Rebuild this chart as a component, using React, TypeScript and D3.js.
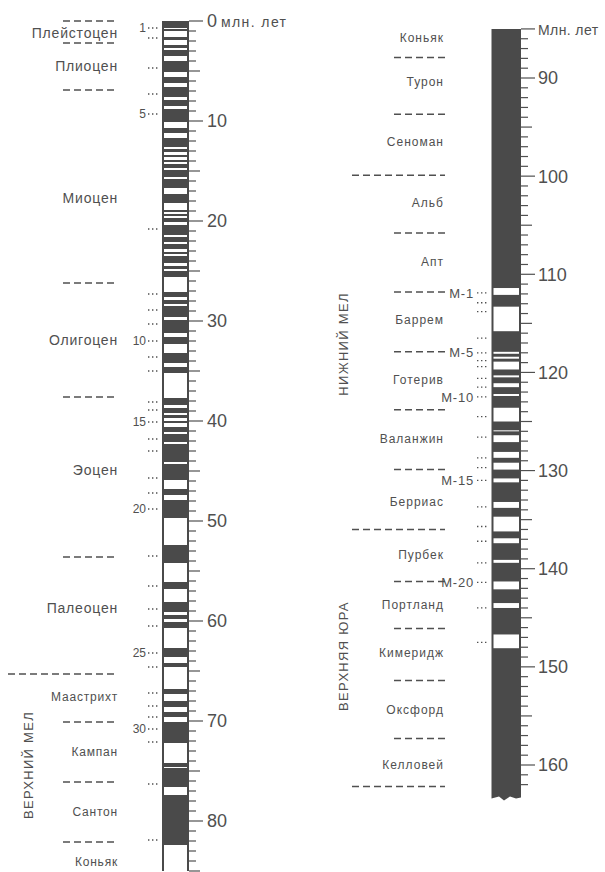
import React from 'react'
import * as d3 from 'd3'

// reversed-polarity (white) intervals, million years
const leftReversed: [number, number][] = [
  [0.7, 0.8], [1.0, 1.6], [1.9, 2.4], [2.7, 2.9], [3.5, 4.0], [5.1, 5.6], [6.2, 6.6], [7.6, 7.9],
  [8.5, 8.8], [10.1, 10.7], [11.2, 11.7], [12.6, 12.8], [13.1, 13.4], [13.6, 13.9], [14.1, 14.3],
  [14.7, 14.9], [15.6, 15.8], [16.7, 17.3], [18.2, 18.9], [19.1, 19.3], [19.5, 19.7], [20.1, 20.4],
  [21.4, 21.6], [22.1, 22.3], [22.8, 23.1], [23.3, 23.5], [24.2, 24.5], [24.8, 25.0], [25.6, 27.1],
  [27.6, 27.9], [28.3, 28.5], [29.6, 29.9], [31.2, 31.6], [32.3, 33.2], [34.2, 34.6], [35.2, 37.7],
  [38.4, 38.7], [39.2, 39.4], [39.7, 40.0], [40.2, 40.6], [41.1, 41.3], [42.1, 42.3], [44.1, 44.3],
  [45.9, 46.8], [47.4, 47.9], [49.7, 52.4], [54.2, 56.1], [56.8, 58.1], [59.1, 59.4], [59.8, 60.1],
  [60.7, 62.7], [63.6, 64.2], [64.6, 66.8], [67.3, 68.0], [68.6, 69.1], [69.6, 70.1], [72.2, 74.2],
  [74.6, 74.7], [76.6, 77.4], [82.4, 85.0]
]
const rightReversed: [number, number][] = [
  [111.4, 112.1], [113.3, 115.8], [117.9, 118.1], [118.4, 118.6], [118.9, 119.7], [120.3, 120.5],
  [121.1, 121.5], [122.2, 122.4], [123.6, 125.0], [125.9, 126.0], [126.4, 127.1], [128.1, 128.7],
  [129.2, 129.9], [130.8, 131.2], [133.2, 133.8], [134.7, 136.2], [136.9, 137.4], [139.1, 139.4],
  [141.3, 142.1], [143.5, 144.0], [146.7, 148.1]
]

// magnetic anomaly positions (numbered 1..33 and M-1..M-22)
const leftAnomalies = [
  0.7, 1.7, 4.7, 7.3, 9.3, 20.8, 27.3, 28.9, 30.3, 32.0, 33.6, 35.0, 38.1, 38.9, 40.1, 41.8, 43.0,
  45.7, 47.2, 48.8, 53.5, 56.5, 58.8, 60.5, 63.2, 64.6, 67.2, 68.5, 69.6, 70.8, 72.1, 76.3, 81.9
]
const rightAnomalies = [
  111.9, 112.9, 113.8, 116.5, 118.0, 118.8, 119.4, 120.6, 121.5, 122.5, 124.5, 126.6, 128.7,
  129.7, 131.0, 133.7, 135.7, 137.2, 139.4, 141.4, 144.0, 147.5
]
const labelledAnomalies = [1, 5, 10, 15, 20, 25, 30]

const leftStageNames = ['Плейстоцен', 'Плиоцен', 'Миоцен', 'Олигоцен', 'Эоцен', 'Палеоцен', 'Маастрихт', 'Кампан', 'Сантон', 'Коньяк']
const leftStageAges = [1.2, 4.5, 17.7, 31.9, 44.9, 58.7, 67.6, 73.1, 79.1, 84.1]
const leftBoundaries = [0, 2.2, 6.9, 26.2, 37.6, 53.6, 65.3, 70.1, 76.1, 82.1]
const leftMajorBoundaries = [65.3]

const rightStageNames = ['Коньяк', 'Турон', 'Сеноман', 'Альб', 'Апт', 'Баррем', 'Готерив', 'Валанжин', 'Берриас', 'Пурбек', 'Портланд', 'Кимеридж', 'Оксфорд', 'Келловей']
const rightStageAges = [85.9, 90.4, 96.5, 102.7, 108.7, 114.6, 120.7, 126.7, 133.2, 138.6, 143.7, 148.6, 154.4, 160.0]
const rightBoundaries = [87.9, 93.7, 99.9, 105.8, 111.8, 117.9, 123.8, 129.9, 136.0, 141.3, 146.1, 151.4, 157.3, 162.2]
const rightMajorBoundaries = [99.9, 136.0, 162.2]

const leftGroupNames = ['ВЕРХНИЙ МЕЛ']
const leftGroupAges = [74.4]
const rightGroupNames = ['НИЖНИЙ МЕЛ', 'ВЕРХНЯЯ ЮРА']
const rightGroupAges = [117.1, 148.9]

const leftDomain: [number, number] = [0, 85]
const rightDomain: [number, number] = [85, 163.3]

const W = 605
const H = 872
const ink = '#4a4a4a'
const txt = '#505050'
const font = '"Liberation Sans", Arial, sans-serif'

const yL = d3.scaleLinear().domain([0, 85]).range([21, 871])
const yR = d3.scaleLinear().domain([90, 160]).range([78, 765])

interface ColProps {
  y: d3.ScaleLinear<number, number>
  domain: [number, number]
  reversed: [number, number][]
  barX: number
  barW: number
  tickEnd: number
  topLabel: string
  topNumber: string
  topSpacing: number
  tickLabelX: number
  wavy?: boolean
}

const Column: React.FC<ColProps> = ({ y, domain, reversed, barX, barW, tickEnd, topLabel, topNumber, topSpacing, tickLabelX, wavy }) => {
  const x1 = barX + barW
  const y0 = y(domain[0])
  const yb = y(domain[1])
  let barPath = `M${barX},${y0}H${x1}V${yb}`
  if (wavy) {
    barPath += `L${x1 - 5},${yb + 1}L${x1 - 11},${yb - 1}L${x1 - 17},${yb + 3}L${x1 - 22},${yb - 1}L${barX},${yb + 1}Z`
  } else {
    barPath += `H${barX}Z`
  }
  const ticks = d3.range(Math.ceil(domain[0]), tickEnd + 1)
  return (
    <g>
      <path d={barPath} fill={ink} />
      {reversed.map(([a, b], i) => (
        <rect key={i} x={barX + 2} width={barW - 4} y={y(a)} height={Math.max(1, y(b) - y(a))} fill="#fff" />
      ))}
      {ticks.map(t => {
        const len = t === domain[0] || t % 10 === 0 ? 14 : t % 5 === 0 ? 11 : 7
        return <line key={t} x1={x1} x2={x1 + len} y1={y(t)} y2={y(t)} stroke={txt} strokeWidth={1.2} />
      })}
      {ticks.filter(t => t % 10 === 0 && t !== domain[0]).map(t => (
        <text key={t} x={tickLabelX} y={y(t)} dy="0.36em" fontSize={18} fill={txt} fontFamily={font}>{t}</text>
      ))}
      <text x={tickLabelX} y={y0} dy="0.36em" fontSize={18} fill={txt} fontFamily={font}>
        {topNumber}
        <tspan fontSize={14} letterSpacing={topSpacing} dx={topNumber ? 4 : 0}>{topLabel}</tspan>
      </text>
    </g>
  )
}

const Dashed: React.FC<{ x1: number; x2: number; y: number }> = ({ x1, x2, y }) => (
  <line x1={x1} x2={x2} y1={y} y2={y} stroke={txt} strokeWidth={1.5} strokeDasharray="7 4" />
)

const Dots: React.FC<{ x: number; y: number }> = ({ x, y }) => (
  <line x1={x} x2={x + 11} y1={y} y2={y} stroke={txt} strokeWidth={1.3} strokeDasharray="1.4 2.6" />
)

export default function App() {
  return (
    <svg width={W} height={H} style={{ position: 'absolute', left: 0, top: 0, background: '#fff' }}>
      {/* left column: 0-85 Myr */}
      <Column y={yL} domain={leftDomain} reversed={leftReversed} barX={162} barW={27} tickEnd={85}
        topNumber="0" topLabel="млн. лет" topSpacing={1.4} tickLabelX={207} />
      {leftBoundaries.map((b, i) => {
        const major = leftMajorBoundaries.includes(b)
        return <Dashed key={i} x1={major ? 8 : 63} x2={117} y={yL(b)} />
      })}
      {leftStageNames.map((n, i) => (
        <text key={n} x={118} y={yL(leftStageAges[i])} dy="0.36em" textAnchor="end" fill={txt} fontFamily={font}
          fontSize={i < 6 ? 14 : 12} letterSpacing={0.8}>{n}</text>
      ))}
      {leftAnomalies.map((a, i) => (
        <g key={i}>
          <Dots x={148} y={yL(a)} />
          {labelledAnomalies.includes(i + 1) && (
            <text x={146} y={yL(a)} dy="0.36em" textAnchor="end" fontSize={12} fill={txt} fontFamily={font}>{i + 1}</text>
          )}
        </g>
      ))}
      {leftGroupNames.map((n, i) => (
        <text key={n} transform={`translate(28,${yL(leftGroupAges[i])}) rotate(-90)`} dy="0.36em" textAnchor="middle"
          fontSize={13} letterSpacing={1.3} fill={txt} fontFamily={font}>{n}</text>
      ))}

      {/* right column: 85-163 Myr */}
      <Column y={yR} domain={rightDomain} reversed={rightReversed} barX={491.5} barW={29.5} tickEnd={162}
        topNumber="" topLabel="Млн. лет" topSpacing={0.4} tickLabelX={538} wavy />
      {rightBoundaries.map((b, i) => {
        const major = rightMajorBoundaries.includes(b)
        return <Dashed key={i} x1={major ? 352 : 394} x2={445} y={yR(b)} />
      })}
      {rightStageNames.map((n, i) => (
        <text key={n} x={444} y={yR(rightStageAges[i])} dy="0.36em" textAnchor="end" fill={txt} fontFamily={font}
          fontSize={12} letterSpacing={1}>{n}</text>
      ))}
      {rightAnomalies.map((a, i) => (
        <g key={i}>
          <Dots x={477} y={yR(a)} />
          {labelledAnomalies.includes(i + 1) && (
            <text x={474} y={yR(a)} dy="0.36em" textAnchor="end" fontSize={13} letterSpacing={0.8} fill={txt} fontFamily={font}>{`М-${i + 1}`}</text>
          )}
        </g>
      ))}
      {rightGroupNames.map((n, i) => (
        <text key={n} transform={`translate(343,${yR(rightGroupAges[i])}) rotate(-90)`} dy="0.36em" textAnchor="middle"
          fontSize={13} letterSpacing={1.3} fill={txt} fontFamily={font}>{n}</text>
      ))}
    </svg>
  )
}
